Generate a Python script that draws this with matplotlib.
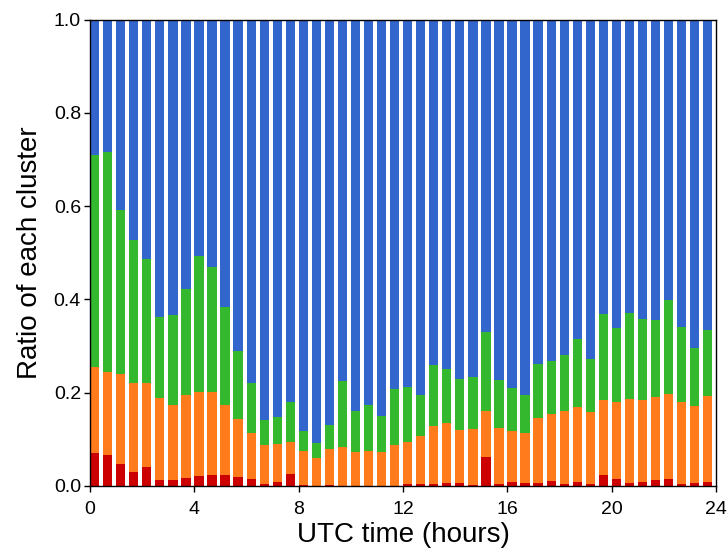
import numpy as np
import matplotlib
matplotlib.use("Agg")
from matplotlib import pyplot as plt

# half-hour bins, UTC hours
hours = np.arange(0, 24, 0.5)

# cumulative tops (red, red+orange, red+orange+green)
red_top = [0.070, 0.066, 0.048, 0.029, 0.040, 0.013, 0.012, 0.018,
           0.022, 0.023, 0.024, 0.020, 0.014, 0.004, 0.009, 0.026,
           0.003, 0.001, 0.002, 0.001, 0.001, 0.001, 0.001, 0.001,
           0.004, 0.004, 0.005, 0.006, 0.006, 0.002, 0.063, 0.004,
           0.008, 0.006, 0.006, 0.011, 0.004, 0.008, 0.004, 0.024,
           0.016, 0.006, 0.009, 0.012, 0.014, 0.004, 0.006, 0.009]
orange_top = [0.256, 0.245, 0.241, 0.221, 0.221, 0.188, 0.173, 0.195,
              0.201, 0.202, 0.173, 0.143, 0.114, 0.087, 0.089, 0.095,
              0.075, 0.059, 0.079, 0.084, 0.072, 0.076, 0.073, 0.088,
              0.095, 0.108, 0.129, 0.134, 0.121, 0.122, 0.161, 0.124,
              0.118, 0.113, 0.145, 0.155, 0.161, 0.169, 0.158, 0.184,
              0.180, 0.186, 0.184, 0.191, 0.198, 0.179, 0.172, 0.192]
green_top = [0.709, 0.717, 0.592, 0.527, 0.486, 0.362, 0.366, 0.422,
             0.493, 0.469, 0.383, 0.289, 0.221, 0.141, 0.148, 0.180,
             0.117, 0.092, 0.131, 0.225, 0.161, 0.173, 0.151, 0.208,
             0.213, 0.194, 0.259, 0.251, 0.229, 0.233, 0.330, 0.227,
             0.210, 0.195, 0.261, 0.268, 0.281, 0.315, 0.273, 0.368,
             0.338, 0.370, 0.358, 0.355, 0.398, 0.340, 0.296, 0.334]

red = np.array(red_top)
orange = np.array(orange_top) - red
green = np.array(green_top) - np.array(orange_top)
blue = 1.0 - np.array(green_top)

plt.rcParams["font.family"] = ["Liberation Sans", "DejaVu Sans"]

fig = plt.figure(figsize=(7.27, 5.5), dpi=100)
ax = fig.add_axes([0.1238, 0.1164, 0.8612, 0.8481])

w = 0.355
ax.bar(hours, red, width=w, align="edge", color="#cc0000", linewidth=0)
ax.bar(hours, orange, width=w, align="edge", bottom=red, color="#ff7b1c", linewidth=0)
ax.bar(hours, green, width=w, align="edge", bottom=red + orange, color="#33b82e", linewidth=0)
ax.bar(hours, blue, width=w, align="edge", bottom=red + orange + green, color="#3366cc", linewidth=0)

ax.set_xlim(0, 24)
ax.set_ylim(0, 1)
ax.set_xticks(np.arange(0, 25, 4))
ax.set_yticks(np.arange(0, 1.01, 0.2))
ax.yaxis.set_major_formatter(matplotlib.ticker.FormatStrFormatter("%.1f"))
ax.tick_params(direction="out", length=4.5, width=1, labelsize=14)
ax.tick_params(axis="x", pad=6)
ax.tick_params(axis="y", pad=2)
for s in ax.spines.values():
    s.set_linewidth(1)

ax.set_xlabel("UTC time (hours)", fontsize=20, labelpad=3)
ax.set_ylabel("Ratio of each cluster", fontsize=20, labelpad=8)

fig.savefig("out.png", dpi=100)
